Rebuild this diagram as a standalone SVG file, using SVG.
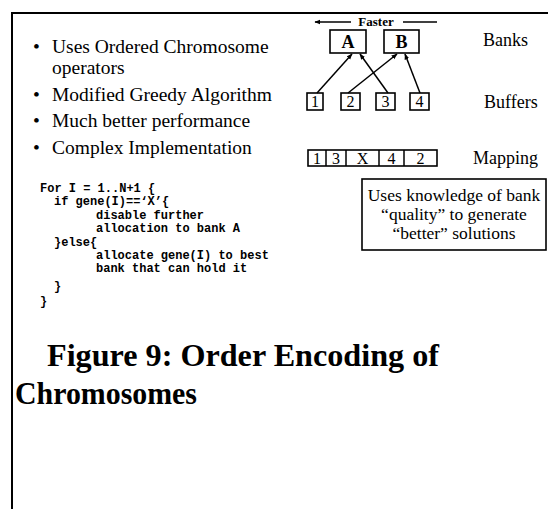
<svg xmlns="http://www.w3.org/2000/svg" width="550" height="509" viewBox="0 0 550 509">
<defs>
<style>
.t{font-family:"Liberation Serif","Times New Roman",serif;fill:#000}
.b{font-size:19.5px}
.r{font-size:18px}
.c{font-family:"Liberation Mono","Courier New",monospace;font-weight:bold;font-size:12px;fill:#000}
.bx{fill:#fff;stroke:#000;stroke-width:1.6}
.ln{stroke:#000;stroke-width:1.5;fill:none}
.f{font-weight:bold;font-size:31px}
</style>
<marker id="ah" viewBox="0 0 10 10" refX="9" refY="5" markerWidth="6" markerHeight="6" orient="auto-start-reverse" markerUnits="userSpaceOnUse">
<path d="M0,1 L10,5 L0,9 z" fill="#000"/>
</marker>
</defs>
<rect width="550" height="509" fill="#fff"/>
<g id="frame">
<line x1="11" y1="13" x2="548" y2="13" stroke="#000" stroke-width="2"/>
<line x1="12" y1="12" x2="12" y2="509" stroke="#000" stroke-width="2"/>
</g>
<g id="bullets" class="t b">
<text x="33" y="53">•</text><text x="52" y="53">Uses Ordered Chromosome</text>
<text x="52" y="74">operators</text>
<text x="33" y="101">•</text><text x="52" y="101">Modified Greedy Algorithm</text>
<text x="33" y="127">•</text><text x="52" y="127">Much better performance</text>
<text x="33" y="154">•</text><text x="52" y="154">Complex Implementation</text>
</g>
<g id="code" class="c">
<text x="40" y="192">For I = 1..N+1 {</text>
<text x="54" y="205">if gene(I)==‘X’{</text>
<text x="96" y="219">disable further</text>
<text x="96" y="232">allocation to bank A</text>
<text x="54" y="246">}else{</text>
<text x="96" y="259">allocate gene(I) to best</text>
<text x="96" y="272">bank that can hold it</text>
<text x="54" y="290">}</text>
<text x="40" y="305">}</text>
</g>
<g id="faster">
<line class="ln" x1="351" y1="22" x2="315" y2="22" marker-end="url(#ah)"/>
<text class="t" x="376" y="26" font-size="13" font-weight="bold" text-anchor="middle">Faster</text>
<line class="ln" x1="403" y1="22" x2="437" y2="22"/>
</g>
<g id="bankA"><rect class="bx" x="330" y="30" width="36" height="23"/><text class="t" x="348" y="48" font-size="18" font-weight="bold" text-anchor="middle">A</text></g>
<g id="bankB"><rect class="bx" x="384" y="30" width="35" height="23"/><text class="t" x="401.5" y="48" font-size="18" font-weight="bold" text-anchor="middle">B</text></g>
<g id="labels" class="t r">
<text x="483" y="46">Banks</text>
<text x="484" y="108">Buffers</text>
<text x="473" y="164">Mapping</text>
</g>
<g id="buf1"><rect class="bx" x="307" y="93" width="16" height="17"/><text class="t" x="315" y="107" font-size="16" text-anchor="middle">1</text></g>
<g id="buf2"><rect class="bx" x="341" y="93" width="19" height="17"/><text class="t" x="350.5" y="107" font-size="16" text-anchor="middle">2</text></g>
<g id="buf3"><rect class="bx" x="376" y="93" width="19" height="17"/><text class="t" x="385.5" y="107" font-size="16" text-anchor="middle">3</text></g>
<g id="buf4"><rect class="bx" x="410" y="93" width="19" height="17"/><text class="t" x="419.5" y="107" font-size="16" text-anchor="middle">4</text></g>
<g id="connectors">
<line class="ln" x1="317" y1="93" x2="352" y2="54" marker-end="url(#ah)"/>
<line class="ln" x1="388" y1="93" x2="360" y2="54" marker-end="url(#ah)"/>
<line class="ln" x1="348" y1="93" x2="397" y2="54" marker-end="url(#ah)"/>
<line class="ln" x1="420" y1="93" x2="405" y2="54" marker-end="url(#ah)"/>
</g>
<g id="mapping">
<rect class="bx" x="308" y="150" width="129" height="16"/>
<line class="ln" x1="326" y1="150" x2="326" y2="166"/>
<line class="ln" x1="346" y1="150" x2="346" y2="166"/>
<line class="ln" x1="379" y1="150" x2="379" y2="166"/>
<line class="ln" x1="404" y1="150" x2="404" y2="166"/>
<g class="t" font-size="16" text-anchor="middle">
<text x="317" y="164">1</text><text x="336" y="164">3</text><text x="362.5" y="164">X</text><text x="391.5" y="164">4</text><text x="420.5" y="164">2</text>
</g>
</g>
<g id="note">
<rect class="bx" x="362" y="179" width="184" height="71"/>
<g class="t" font-size="17.5" text-anchor="middle">
<text x="454" y="201">Uses knowledge of bank</text>
<text x="454" y="220">“quality” to generate</text>
<text x="454" y="239">“better” solutions</text>
</g>
</g>
<g id="caption" class="t f">
<text x="47" y="366" textLength="392" lengthAdjust="spacingAndGlyphs">Figure 9: Order Encoding of</text>
<text x="15" y="404" textLength="182" lengthAdjust="spacingAndGlyphs">Chromosomes</text>
</g>
</svg>
